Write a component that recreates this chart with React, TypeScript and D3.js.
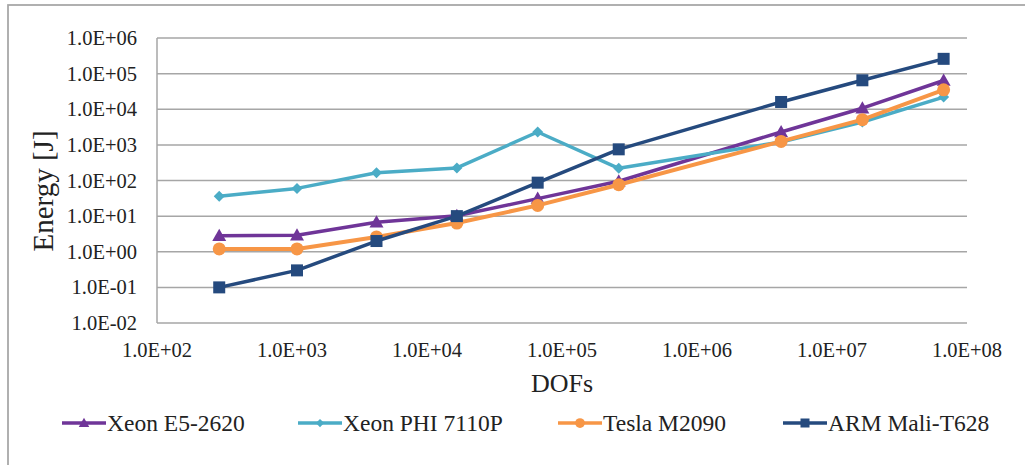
import React from "react";
import * as d3 from "d3";

const dofs = [289, 1089, 4225, 16641, 66049, 263169, 4198401, 16785409, 67125249];
const xeonE5 = [2.8, 2.9, 6.7, 10.2, 31, 95, 2300, 10700, 64000];
const xeonPhi = [36, 60, 165, 225, 2300, 220, 1200, 4400, 22000];
const tesla = [1.2, 1.2, 2.6, 6.4, 20, 76, 1250, 5100, 35000];
const armMali = [0.1, 0.3, 2.0, 10, 87, 750, 16000, 65000, 260000];

const seriesNames = ["Xeon E5-2620", "Xeon PHI 7110P", "Tesla M2090", "ARM Mali-T628"];
const seriesColors = ["#6F3598", "#4BACC6", "#F79646", "#254A7E"];
const seriesMarkers = ["triangle", "diamond", "circle", "square"];
const seriesValues = [xeonE5, xeonPhi, tesla, armMali];

const xTicks = [1e2, 1e3, 1e4, 1e5, 1e6, 1e7, 1e8];
const yTicks = [1e-2, 1e-1, 1e0, 1e1, 1e2, 1e3, 1e4, 1e5, 1e6];

const fmt = (v: number) => {
  const e = Math.round(Math.log10(v));
  const s = e < 0 ? "-" : "+";
  return `1.0E${s}${String(Math.abs(e)).padStart(2, "0")}`;
};

const FONT = "Liberation Serif";
const TXT = { fontFamily: FONT, fill: "#222" } as React.CSSProperties;

function Marker({ type, x, y, color, scale = 1 }: { type: string; x: number; y: number; color: string; scale?: number }) {
  if (type === "triangle") {
    const s = 7 * scale;
    return <path d={`M${x},${y - s}L${x + s},${y + s * 0.75}L${x - s},${y + s * 0.75}Z`} fill={color} />;
  }
  if (type === "diamond") {
    const s = 5.5 * scale;
    return <path d={`M${x},${y - s}L${x + s},${y}L${x},${y + s}L${x - s},${y}Z`} fill={color} />;
  }
  if (type === "circle") {
    return <circle cx={x} cy={y} r={6.5 * scale} fill={color} />;
  }
  const s = 6 * scale;
  return <rect x={x - s} y={y - s} width={2 * s} height={2 * s} fill={color} />;
}

export default function App() {
  const left = 157, right = 967, top = 38, bottom = 323;
  const x = d3.scaleLog().domain([1e2, 1e8]).range([left, right]);
  const y = d3.scaleLog().domain([1e-2, 1e6]).range([bottom, top]);
  const line = d3.line<[number, number]>().x(d => x(d[0])).y(d => y(d[1]));

  const legendX = [62, 298, 558, 783];

  return (
    <svg width={1025} height={465} style={{ position: "absolute", left: 0, top: 0, fontFamily: FONT }}>
      <rect x={0} y={0} width={1025} height={465} fill="#fff" />
      <rect x={8} y={5} width={1030} height={480} fill="none" stroke="#a6a6a6" strokeWidth={1.75} />
      {yTicks.map(t => (
        <g key={t}>
          <line x1={left} x2={right} y1={y(t)} y2={y(t)} stroke="#a6a6a6" strokeWidth={1.5} />
          <text x={137} y={y(t) + 7} fontSize={20.5} textAnchor="end" style={TXT}>{fmt(t)}</text>
        </g>
      ))}
      <line x1={left} x2={left} y1={top} y2={bottom} stroke="#a6a6a6" strokeWidth={1.5} />
      {xTicks.map(t => (
        <text key={t} x={x(t)} y={357} fontSize={20.5} textAnchor="middle" style={TXT}>{fmt(t)}</text>
      ))}
      <text x={562} y={392} fontSize={26} textAnchor="middle" style={TXT}>DOFs</text>
      <text transform="translate(53,191) rotate(-90)" fontSize={29} textAnchor="middle" style={TXT}>Energy [J]</text>
      {seriesValues.map((vals, i) => {
        const pts = dofs.map((d, j) => [d, vals[j]] as [number, number]);
        return (
          <g key={i}>
            <path d={line(pts) || ""} fill="none" stroke={seriesColors[i]} strokeWidth={i === 2 ? 4 : 3.5} strokeLinejoin="round" />
            {pts.map((p, j) => (
              <Marker key={j} type={seriesMarkers[i]} x={x(p[0])} y={y(p[1])} color={seriesColors[i]} />
            ))}
          </g>
        );
      })}
      {seriesNames.map((n, i) => (
        <g key={n}>
          <line x1={legendX[i]} x2={legendX[i] + 44} y1={423} y2={423} stroke={seriesColors[i]} strokeWidth={3.5} />
          <Marker type={seriesMarkers[i]} x={legendX[i] + 22} y={423} color={seriesColors[i]} scale={0.75} />
          <text x={legendX[i] + 45} y={431} fontSize={23.5} style={TXT}>{n}</text>
        </g>
      ))}
    </svg>
  );
}
